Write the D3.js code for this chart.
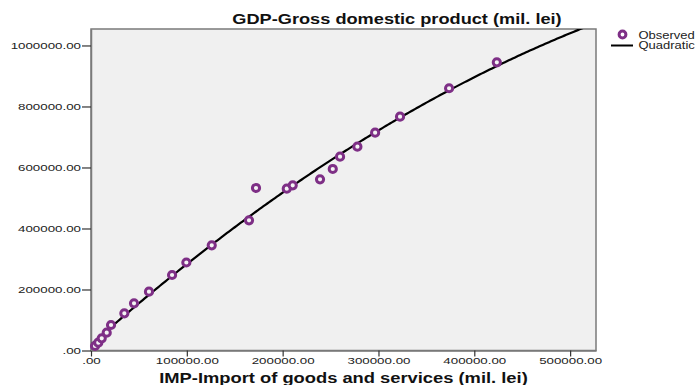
<!DOCTYPE html>
<html>
<head>
<meta charset="utf-8">
<script src="https://cdn.jsdelivr.net/npm/d3@7/dist/d3.min.js"></script>
<style>
  html, body { margin: 0; padding: 0; background: #ffffff; }
  svg { display: block; font-family: "Liberation Sans", Arial, sans-serif; }
</style>
</head>
<body>
<svg id="chart" width="698" height="385"></svg>
<script>
// Imports vs. GDP (mil. lei), observed pairs
const importValues = [4200, 7600, 11200, 16400, 20900, 34800, 44900, 60500, 84600, 99500,
  126000, 164900, 172200, 204300, 210500, 239000, 252300, 259900, 278000, 296500,
  322500, 373700, 423500];
const gdpValues = [14800, 25600, 40000, 58400, 83600, 122000, 154800, 192800, 247500, 288500,
  344900, 426900, 532800, 530500, 541600, 561300, 595100, 635400, 668200, 714100,
  766600, 859700, 944900];

const xTicks = [0, 100000, 200000, 300000, 400000, 500000];
const yTicks = [0, 200000, 400000, 600000, 800000, 1000000];

const titleText = "GDP-Gross domestic product (mil. lei)";
const xTitleText = "IMP-Import of goods and services (mil. lei)";
const legendLabels = ["Observed", "Quadratic"];

const svg = d3.select("#chart");
const plot = { left: 91, top: 29, right: 596, bottom: 350.5 };

const x = d3.scaleLinear().domain([0, 527000]).range([plot.left, plot.right]);
const y = d3.scaleLinear().domain([0, 1054000]).range([plot.bottom, plot.top]);

const fmt = v => v === 0 ? ".00" : v.toFixed(2);
const purple = "#7e2f86";
const wide = 1.36;   // horizontal stretch applied to all text

// Least-squares quadratic fit: gdp = b0 + b1*imp + b2*imp^2
function quadFit(xs, ys) {
  const s = 1e5;
  const S = [0, 0, 0, 0, 0], T = [0, 0, 0];
  xs.forEach((xv, i) => {
    const u = xv / s;
    for (let k = 0; k < 5; k++) S[k] += Math.pow(u, k);
    for (let k = 0; k < 3; k++) T[k] += ys[i] * Math.pow(u, k);
  });
  const A = [[S[0], S[1], S[2], T[0]], [S[1], S[2], S[3], T[1]], [S[2], S[3], S[4], T[2]]];
  for (let i = 0; i < 3; i++) {
    for (let j = i + 1; j < 3; j++) {
      const f = A[j][i] / A[i][i];
      for (let k = i; k < 4; k++) A[j][k] -= f * A[i][k];
    }
  }
  const b = [0, 0, 0];
  for (let i = 2; i >= 0; i--) {
    let v = A[i][3];
    for (let k = i + 1; k < 3; k++) v -= A[i][k] * b[k];
    b[i] = v / A[i][i];
  }
  return xv => b[0] + b[1] * (xv / s) + b[2] * (xv / s) * (xv / s);
}
const fit = quadFit(importValues, gdpValues);

// Text drawn with a horizontal stretch around its anchor point
function wideText(parent, tx, ty, str, opts) {
  return parent.append("text")
    .attr("transform", `translate(${tx},${ty}) scale(${opts.sx || wide},1)`)
    .attr("text-anchor", opts.anchor || "start")
    .attr("font-size", opts.size)
    .attr("font-weight", opts.weight || "normal")
    .attr("fill", opts.fill || "#111")
    .text(str);
}

// Plot background and frame
svg.append("rect")
  .attr("x", plot.left).attr("y", plot.top)
  .attr("width", plot.right - plot.left).attr("height", plot.bottom - plot.top)
  .attr("fill", "#f0f0f0").attr("stroke", "#7a7a7a").attr("stroke-width", 1.5);

// Axes
const xAxis = d3.axisBottom(x).tickValues(xTicks).tickFormat(fmt).tickSizeOuter(0).tickSizeInner(6);
const yAxis = d3.axisLeft(y).tickValues(yTicks).tickFormat(fmt).tickSizeOuter(0).tickSizeInner(9);

const gx = svg.append("g").attr("transform", `translate(0,${plot.bottom})`).call(xAxis);
const gy = svg.append("g").attr("transform", `translate(${plot.left},0)`).call(yAxis);
[gx, gy].forEach(g => {
  g.select(".domain").attr("stroke", "#7a7a7a").attr("stroke-width", 1.5);
  g.selectAll(".tick line").attr("stroke", "#333").attr("stroke-width", 1.2);
  g.selectAll(".tick text").attr("fill", "#222").attr("font-size", 9.8)
    .attr("font-family", "\"Liberation Sans\", Arial, sans-serif");
});
gx.selectAll(".tick text")
  .attr("y", 6.5).attr("x", 0)
  .attr("transform", `scale(${wide},1)`);
gy.selectAll(".tick text")
  .attr("x", -10 / wide)
  .attr("transform", `scale(${wide},1)`);

// Fitted quadratic curve, clipped to the plot area
svg.append("clipPath").attr("id", "plotClip").append("rect")
  .attr("x", plot.left).attr("y", plot.top)
  .attr("width", plot.right - plot.left).attr("height", plot.bottom - plot.top);

const curveX = d3.range(0, 527001, 2000);
svg.append("path")
  .datum(curveX)
  .attr("clip-path", "url(#plotClip)")
  .attr("fill", "none").attr("stroke", "#000").attr("stroke-width", 2.2)
  .attr("d", d3.line().x(d => x(d)).y(d => y(fit(d))));

// Observed points
svg.append("g").selectAll("circle")
  .data(importValues.map((v, i) => [v, gdpValues[i]]))
  .join("circle")
  .attr("cx", d => x(d[0])).attr("cy", d => y(d[1]))
  .attr("r", 3.6)
  .attr("fill", "#f4f4f4").attr("stroke", purple).attr("stroke-width", 3);

// Titles
wideText(svg, 397, 24, titleText, { size: 14, weight: "bold", anchor: "middle", sx: 1.3 });
wideText(svg, (plot.left + plot.right) / 2, 383, xTitleText, { size: 14, weight: "bold", anchor: "middle", sx: 1.31 });

// Legend
const lg = svg.append("g");
lg.append("circle").attr("cx", 622.5).attr("cy", 34.5).attr("r", 3.4)
  .attr("fill", "#fff").attr("stroke", purple).attr("stroke-width", 3);
wideText(lg, 638.5, 38.5, legendLabels[0], { size: 10, fill: "#222", sx: 1.3 });
lg.append("line").attr("x1", 611).attr("x2", 633).attr("y1", 45.5).attr("y2", 45.5)
  .attr("stroke", "#000").attr("stroke-width", 2);
wideText(lg, 638.5, 49, legendLabels[1], { size: 10, fill: "#222", sx: 1.3 });
</script>
</body>
</html>
